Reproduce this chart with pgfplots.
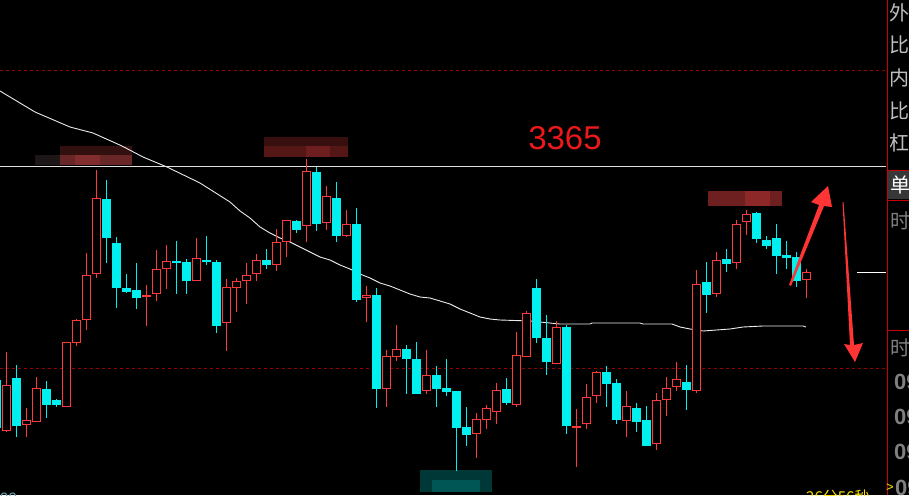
\documentclass[border=0pt]{standalone}
\usepackage{pgfplots}
\usepackage{pgfplotstable}
\pgfplotsset{compat=1.18}
\usepackage{fontspec}
\setmainfont{Liberation Sans}
\newfontfamily\cjk{Noto Sans CJK SC}
\definecolor{kred}{RGB}{255,58,58}
\definecolor{kcyan}{RGB}{0,240,240}
\definecolor{dred}{RGB}{150,0,0}
\definecolor{txtred}{RGB}{235,25,25}
\definecolor{panelgray}{RGB}{190,190,190}

% x, body top, body bottom, wick top, wick low (screen rows)
\pgfplotstableread{
x bt bb wh wl
6.5 385 431 352 432
26.5 420 425 408 437
36.5 388 422 377 422
66.5 342 407 342 407
76.5 320 343 319 346
86.5 275 320 253 330
96.5 198 274 170 278
146.5 295 297 285 326
156.5 269 294 250 301
166.5 261 269 245 289
196.5 258 281 238 281
226.5 287 323 279 351
236.5 281 288 278 312
246.5 275 281 263 304
256.5 260 274 254 281
276.5 242 265 229 271
286.5 220 242 220 257
306.5 171 226 159 242
326.5 196 223 186 230
346.5 224 236 210 237
366.5 295 298 286 322
386.5 356 389 350 407
396.5 349 357 325 361
426.5 375 391 350 394
476.5 419 434 413 458
486.5 408 420 405 429
496.5 390 412 383 424
516.5 355 405 332 407
526.5 313 357 311 357
556.5 327 364 321 364
576.5 426 428 409 467
586.5 397 424 384 429
596.5 372 396 371 403
626.5 406 421 391 437
656.5 400 444 393 450
666.5 388 400 377 416
676.5 379 387 362 391
696.5 284 391 270 393
716.5 260 294 252 297
736.5 224 263 220 269
746.5 214 222 210 235
806.5 272 280 269 298
}\upcandles

\pgfplotstableread{
x bt bb wh wl
-3.5 380 428 372 430
16.5 378 426 365 437
46.5 389 405 381 418
56.5 400 405 399 407
106.5 199 238 180 263
116.5 243 288 237 308
126.5 288 292 274 293
136.5 290 298 263 309
176.5 261 263 241 294
186.5 262 281 259 294
206.5 260 262 236 265
216.5 262 326 260 333
266.5 260 265 249 269
296.5 221 230 220 233
316.5 172 224 167 231
336.5 198 236 182 242
356.5 224 300 208 302
376.5 295 389 288 408
406.5 349 359 345 394
416.5 359 394 342 394
436.5 375 389 366 407
446.5 388 392 359 396
456.5 391 428 391 471
466.5 427 435 407 446
506.5 389 403 378 405
536.5 288 338 279 343
546.5 338 362 315 375
566.5 327 426 325 434
606.5 372 384 366 407
616.5 383 420 379 424
636.5 408 422 403 432
646.5 420 446 406 446
686.5 382 390 365 410
706.5 282 295 262 313
726.5 259 264 249 272
756.5 213 239 212 243
766.5 240 246 236 249
776.5 238 256 224 274
786.5 255 258 241 269
796.5 257 281 252 287
}\downcandles

\pgfplotsset{
  seg/.style n args={2}{draw=none, mark=none,
    error bars/.cd, y dir=plus, y explicit, error mark=none,
    error bar style={draw=#1, line width=#2, line cap=butt}},
}

\begin{document}
\begin{tikzpicture}
\begin{axis}[
  scale only axis, width=909pt, height=495pt,
  xmin=0, xmax=909, ymin=0, ymax=495, y dir=reverse,
  hide axis,
]
\fill[black] (rel axis cs:0,0) rectangle (rel axis cs:1,1);

% mosaic blocks
\fill[fill={rgb,255:red,28;green,22;blue,22}] (axis cs:35,155) rectangle (axis cs:60,165);
\fill[fill={rgb,255:red,50;green,16;blue,16}] (axis cs:60,146) rectangle (axis cs:132,155);
\fill[fill={rgb,255:red,105;green,38;blue,38}] (axis cs:60,155) rectangle (axis cs:132,165);
\fill[fill={rgb,255:red,130;green,45;blue,45}] (axis cs:75,155) rectangle (axis cs:100,165);
\fill[fill={rgb,255:red,55;green,15;blue,15}] (axis cs:264,137) rectangle (axis cs:348,146);
\fill[fill={rgb,255:red,85;green,22;blue,22}] (axis cs:264,146) rectangle (axis cs:348,157);
\fill[fill={rgb,255:red,110;green,30;blue,30}] (axis cs:306,146) rectangle (axis cs:330,157);
\fill[fill={rgb,255:red,110;green,32;blue,32}] (axis cs:708,191) rectangle (axis cs:782,206);
\fill[fill={rgb,255:red,140;green,40;blue,40}] (axis cs:745,191) rectangle (axis cs:770,206);
\fill[fill={rgb,255:red,0;green,55;blue,55}] (axis cs:420,470) rectangle (axis cs:492,492);
\fill[fill={rgb,255:red,0;green,85;blue,85}] (axis cs:432,480) rectangle (axis cs:480,492);

% horizontal reference lines
\addplot[dred, line width=1pt, dash pattern=on 3pt off 3pt] coordinates {(0,70) (886,70)};
\addplot[dred, line width=1pt, dash pattern=on 3pt off 3pt] coordinates {(0,368) (886,368)};
\addplot[white!88!black, line width=1pt] coordinates {(0,166) (886,166)};
\addplot[white, line width=1pt] coordinates {(857,272) (886,272)};

% moving average
\addplot[white!92!black, line width=0.9pt] coordinates {
(0,91) (35,112) (70,127) (93,133) (122,146) (143,157) (167,167) (200,183) (230,202)
(240,211) (250,218) (260,227) (270,233) (280,238) (290,242) (300,247) (310,252)
(320,257) (330,260) (340,265) (350,269) (360,274) (370,278) (380,283) (390,286)
(400,290) (410,294) (420,297) (430,298) (440,301) (450,304) (460,309) (470,313)
(480,317) (490,319) (500,320) (530,321) (550,323) (560,324) (590,324) (592,323)
(640,323) (643,324) (672,324) (680,327) (690,329) (703,331) (730,329) (743,327)
(763,326) (803,326) (806,327)};

% wicks
\addplot[seg={kred}{1pt}]
  table[x=x, y=wh, y error expr={\thisrow{wl}-\thisrow{wh}}] {\upcandles};
\addplot[seg={kcyan}{1pt}]
  table[x=x, y=wh, y error expr={\thisrow{wl}-\thisrow{wh}}] {\downcandles};
% bodies
\addplot[seg={kred}{8.4pt}]
  table[x=x, y=bt, y error expr={max(\thisrow{bb}-\thisrow{bt},2)}] {\upcandles};
\addplot[seg={black}{6.4pt}]
  table[x=x, y expr={\thisrow{bt}+1}, y error expr={max(\thisrow{bb}-\thisrow{bt}-2,0)}] {\upcandles};
\addplot[seg={kcyan}{8.4pt}]
  table[x=x, y=bt, y error expr={max(\thisrow{bb}-\thisrow{bt},1.6)}] {\downcandles};

% annotation
\node[txtred, font=\fontsize{33}{33}\selectfont, inner sep=0pt] at (axis cs:565,138) {3365};
\fill[kred!90!red] (axis cs:789,285) -- (axis cs:819,205) -- (axis cs:811,202) -- (axis cs:828,186)
  -- (axis cs:832,207) -- (axis cs:824,206) -- (axis cs:791,286) -- cycle;
\fill[kred!90!red] (axis cs:842.5,202) -- (axis cs:843.5,202) -- (axis cs:854,345) -- (axis cs:863,343)
  -- (axis cs:855,362) -- (axis cs:844,344) -- (axis cs:850,345) -- cycle;

% right panel
\fill[fill={rgb,255:red,55;green,55;blue,55}] (axis cs:888,171) rectangle (axis cs:909,199);
\draw[red!80!black, line width=1pt] (axis cs:887.5,0) -- (axis cs:887.5,495);
\draw[red!80!black, line width=1pt] (axis cs:887.5,170.5) -- (axis cs:909,170.5);
\draw[red!80!black, line width=1pt] (axis cs:887.5,200.5) -- (axis cs:909,200.5);
\draw[red!80!black, line width=1pt] (axis cs:887.5,330.5) -- (axis cs:909,330.5);
\node[panelgray, anchor=west, inner sep=0pt, font=\cjk\fontsize{20}{20}\selectfont] at (axis cs:889,13) {外};
\node[panelgray, anchor=west, inner sep=0pt, font=\cjk\fontsize{20}{20}\selectfont] at (axis cs:889,45) {比};
\node[panelgray, anchor=west, inner sep=0pt, font=\cjk\fontsize{20}{20}\selectfont] at (axis cs:889,78) {内};
\node[panelgray, anchor=west, inner sep=0pt, font=\cjk\fontsize{20}{20}\selectfont] at (axis cs:889,111) {比};
\node[panelgray, anchor=west, inner sep=0pt, font=\cjk\fontsize{20}{20}\selectfont] at (axis cs:889,143) {杠};
\node[white, anchor=west, inner sep=0pt, font=\cjk\fontsize{20}{20}\selectfont] at (axis cs:890,185) {单};
\node[gray, anchor=west, inner sep=0pt, font=\cjk\fontsize{20}{20}\selectfont] at (axis cs:890,221) {时};
\node[gray, anchor=west, inner sep=0pt, font=\cjk\fontsize{20}{20}\selectfont] at (axis cs:890,348) {时};
\node[gray, anchor=west, inner sep=0pt, font=\bfseries\fontsize{22}{22}\selectfont] at (axis cs:894,382) {09};
\node[gray, anchor=west, inner sep=0pt, font=\bfseries\fontsize{22}{22}\selectfont] at (axis cs:894,417) {09};
\node[gray, anchor=west, inner sep=0pt, font=\bfseries\fontsize{22}{22}\selectfont] at (axis cs:894,452) {09};
\node[gray, anchor=west, inner sep=0pt, font=\bfseries\fontsize{22}{22}\selectfont] at (axis cs:895,488) {09};
\node[yellow!90!orange, anchor=west, inner sep=0pt, font=\fontsize{13}{13}\selectfont] at (axis cs:886,488) {>};
\node[yellow!85!orange, anchor=west, inner sep=0pt, font=\cjk\fontsize{15}{15}\selectfont] at (axis cs:806,497) {26分56秒};
\node[gray!60!cyan, anchor=west, inner sep=0pt, font=\fontsize{15}{15}\selectfont] at (axis cs:0,498) {99};
\end{axis}
\end{tikzpicture}
\end{document}
